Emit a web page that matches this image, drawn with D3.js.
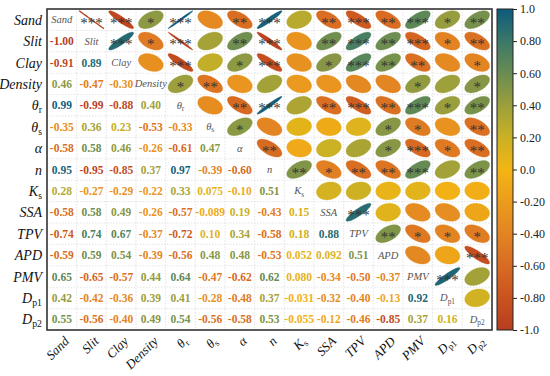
<!DOCTYPE html>
<html>
<head>
<meta charset="utf-8">
<script src="https://cdn.jsdelivr.net/npm/d3@7"></script>
<style>
  body { margin: 0; background: #fff; }
</style>
</head>
<body>
<svg id="chart" width="550" height="376" font-family="Liberation Serif"></svg>
<script>
// variable names, split into main text and subscript
const names = ["Sand", "Slit", "Clay", "Density", "θ", "θ", "α", "n", "K", "SSA", "TPV", "APD", "PMV", "D", "D"];
const subs = ["", "", "", "", "r", "s", "", "", "s", "", "", "", "", "p1", "p2"];

// lower triangle, row i holds r(i, 0..i-1)
const lower = [
  [],
  [-1.00],
  [-0.91, 0.89],
  [0.46, -0.47, -0.30],
  [0.99, -0.99, -0.88, 0.40],
  [-0.35, 0.36, 0.23, -0.53, -0.33],
  [-0.58, 0.58, 0.46, -0.26, -0.61, 0.47],
  [0.95, -0.95, -0.85, 0.37, 0.97, -0.39, -0.60],
  [0.28, -0.27, -0.29, -0.22, 0.33, 0.075, -0.10, 0.51],
  [-0.58, 0.58, 0.49, -0.26, -0.57, -0.089, 0.19, -0.43, 0.15],
  [-0.74, 0.74, 0.67, -0.37, -0.72, 0.10, 0.34, -0.58, 0.18, 0.88],
  [-0.59, 0.59, 0.54, -0.39, -0.56, 0.48, 0.48, -0.53, 0.052, 0.092, 0.51],
  [0.65, -0.65, -0.57, 0.44, 0.64, -0.47, -0.62, 0.62, 0.080, -0.34, -0.50, -0.37],
  [0.42, -0.42, -0.36, 0.39, 0.41, -0.28, -0.48, 0.37, -0.031, -0.32, -0.40, -0.13, 0.92],
  [0.55, -0.56, -0.40, 0.49, 0.54, -0.56, -0.58, 0.53, -0.055, -0.12, -0.46, -0.85, 0.37, 0.16]
];

// significance stars, upper triangle, row i holds cols i+1..14
const stars = [
  ["***", "***", "*", "***", "", "**", "***", "", "**", "***", "**", "***", "*", "**"],
  ["***", "*", "***", "", "**", "***", "", "**", "***", "**", "***", "*", "**"],
  ["", "***", "", "*", "***", "", "*", "***", "**", "**", "", "*"],
  ["*", "**", "", "", "", "", "", "", "*", "", "*"],
  ["", "**", "***", "", "**", "***", "**", "***", "*", "**"],
  ["*", "", "", "", "", "*", "*", "", "**"],
  ["**", "", "", "", "*", "***", "*", "**"],
  ["**", "*", "**", "**", "***", "", "**"],
  ["", "", "", "", "", ""],
  ["***", "", "", "", ""],
  ["**", "*", "*", "*"],
  ["", "", "***"],
  ["***", ""],
  [""],
  []
];

const colorStops = [-1, -0.8, -0.6, -0.4, -0.2, 0, 0.2, 0.4, 0.6, 0.8, 1];
const colorValues = ["#b63e1f", "#c9531f", "#d86b22", "#e38423", "#eb9c1d", "#f3b514",
                     "#c9b125", "#9c9f3c", "#6a8c52", "#3a7868", "#0e5a7e"];
const barTicks = [1, 0.8, 0.6, 0.4, 0.2, 0, -0.2, -0.4, -0.6, -0.8, -1];
const barTickLabels = ["1.0", "0.80", "0.60", "0.40", "0.20", "0.0", "-0.20", "-0.40", "-0.60", "-0.80", "-1.0"];

const svg = d3.select("#chart");
const plot = { left: 47, top: 9, right: 492, bottom: 330 };
const n = names.length;

const x = d3.scaleBand().domain(d3.range(n)).range([plot.left, plot.right]);
const y = d3.scaleBand().domain(d3.range(n)).range([plot.top, plot.bottom]);
const color = d3.scaleLinear().domain(colorStops).range(colorValues);
const cw = x.bandwidth(), ch = y.bandwidth();

const corr = (i, j) => (i > j ? lower[i][j] : lower[j][i]);
const fmt = v => (Math.abs(v) < 0.1 ? d3.format(".3f")(v) : d3.format(".2f")(v)).replace("−", "-");

const addLabel = (sel, i) => {
  sel.append("tspan").text(names[i]);
  if (subs[i]) sel.append("tspan").attr("font-size", "0.7em").attr("dy", "0.3em").attr("font-style", "normal").text(subs[i]);
};

// grid
const grid = svg.append("g");
d3.range(1, n).forEach(k => {
  grid.append("line").attr("x1", x(k)).attr("x2", x(k)).attr("y1", plot.top).attr("y2", plot.bottom);
  grid.append("line").attr("y1", y(k)).attr("y2", y(k)).attr("x1", plot.left).attr("x2", plot.right);
});
grid.selectAll("line").attr("stroke", "#d9d9d9").attr("stroke-width", 0.7).attr("stroke-dasharray", "1.5,1.5");

// ellipse generator
const ellipsePath = r => {
  const d = Math.acos(Math.max(-1, Math.min(1, r)));
  const pts = d3.range(0, 101).map(k => {
    const t = (k / 100) * 2 * Math.PI;
    return [Math.cos(t + d / 2) * 0.42 * cw, -Math.cos(t - d / 2) * 0.42 * ch];
  });
  return d3.line()(pts) + "Z";
};

const cells = [];
for (let i = 0; i < n; i++) for (let j = 0; j < n; j++) cells.push({ i, j });

// upper: ellipses
const upper = svg.append("g").selectAll("g")
  .data(cells.filter(c => c.j > c.i))
  .join("g")
  .attr("transform", c => `translate(${x(c.j) + cw / 2},${y(c.i) + ch / 2})`);
upper.append("path")
  .attr("d", c => ellipsePath(corr(c.i, c.j)))
  .attr("fill", c => color(corr(c.i, c.j)))
  .attr("stroke", c => color(corr(c.i, c.j)))
  .attr("stroke-width", c => (Math.abs(corr(c.i, c.j)) > 0.99 ? 1.3 : 0.3));
upper.append("text")
  .attr("text-anchor", "middle")
  .attr("y", 8)
  .attr("font-size", 15)
  .attr("fill", "#333")
  .text(c => stars[c.i][c.j - c.i - 1]);

// lower: numbers
svg.append("g").selectAll("text")
  .data(cells.filter(c => c.j < c.i))
  .join("text")
  .attr("x", c => x(c.j) + cw / 2)
  .attr("y", c => y(c.i) + ch / 2 + 4)
  .attr("text-anchor", "middle")
  .attr("font-size", 11.5)
  .attr("font-weight", "bold")
  .attr("fill", c => color(lower[c.i][c.j]))
  .text(c => fmt(lower[c.i][c.j]));

// diagonal labels
svg.append("g").selectAll("text")
  .data(d3.range(n))
  .join("text")
  .attr("x", i => x(i) + cw / 2)
  .attr("y", i => y(i) + ch / 2 + 3.5)
  .attr("text-anchor", "middle")
  .attr("font-size", 10.5)
  .attr("font-style", "italic")
  .attr("fill", "#555")
  .each(function (i) { addLabel(d3.select(this), i); });

// border
svg.append("rect")
  .attr("x", plot.left).attr("y", plot.top)
  .attr("width", plot.right - plot.left).attr("height", plot.bottom - plot.top)
  .attr("fill", "none").attr("stroke", "#333").attr("stroke-width", 1.6);

// left labels
svg.append("g").selectAll("text")
  .data(d3.range(n))
  .join("text")
  .attr("x", plot.left - 5)
  .attr("y", i => y(i) + ch / 2 + 5)
  .attr("text-anchor", "end")
  .attr("font-size", 14)
  .attr("font-style", "italic")
  .attr("fill", "#111")
  .each(function (i) { addLabel(d3.select(this), i); });

// bottom labels
svg.append("g").selectAll("text")
  .data(d3.range(n))
  .join("text")
  .attr("transform", i => `translate(${x(i) + cw / 2 + 8},${plot.bottom + 12}) rotate(-45)`)
  .attr("text-anchor", "end")
  .attr("font-size", 13)
  .attr("font-style", "italic")
  .attr("fill", "#111")
  .each(function (i) { addLabel(d3.select(this), i); });

// colorbar
const bar = { x: 497, w: 16, top: 9, bottom: 330 };
const grad = svg.append("defs").append("linearGradient")
  .attr("id", "cbar").attr("x1", 0).attr("x2", 0).attr("y1", 1).attr("y2", 0);
colorStops.forEach((s, k) => {
  grad.append("stop").attr("offset", (s + 1) / 2).attr("stop-color", colorValues[k]);
});
svg.append("rect")
  .attr("x", bar.x).attr("y", bar.top).attr("width", bar.w).attr("height", bar.bottom - bar.top)
  .attr("fill", "url(#cbar)").attr("stroke", "#222").attr("stroke-width", 1);

const barScale = d3.scaleLinear().domain([-1, 1]).range([bar.bottom, bar.top]);
const barAxis = svg.append("g")
  .attr("transform", `translate(${bar.x + bar.w},0)`)
  .call(d3.axisRight(barScale).tickValues(barTicks).tickSize(4).tickFormat((d, k) => barTickLabels[k]));
barAxis.select(".domain").remove();
barAxis.attr("font-family", "Liberation Serif");
barAxis.selectAll("line").attr("stroke", "#222");
barAxis.selectAll("text")
  .attr("font-size", 12)
  .attr("fill", "#222");
</script>
</body>
</html>
